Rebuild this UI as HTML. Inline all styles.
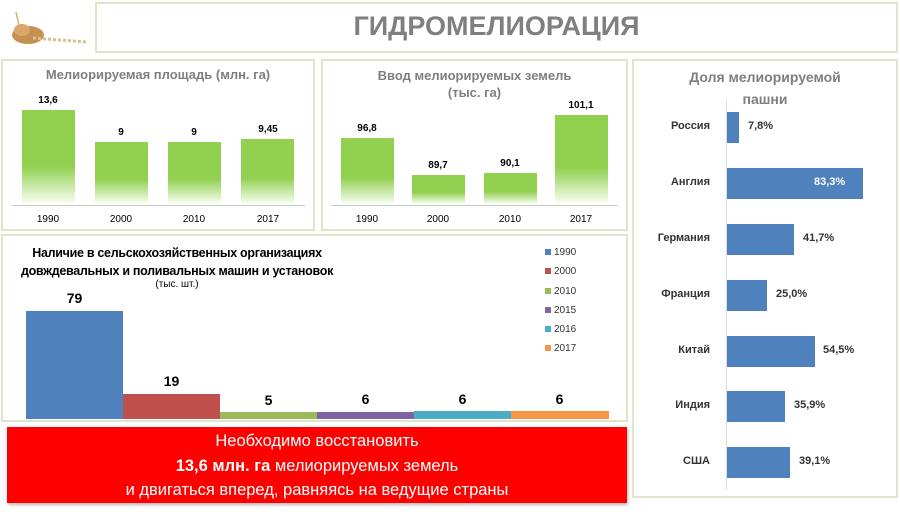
<!DOCTYPE html>
<html><head><meta charset="utf-8"><style>
body{margin:0;width:900px;height:520px;background:#fff;position:relative;overflow:hidden;font-family:"Liberation Sans","DejaVu Sans",sans-serif}
.a{position:absolute}
.p{position:absolute;border:2px solid #dde6c8;box-sizing:border-box}
.t{position:absolute;color:#7f7f7f;font-weight:bold;font-size:13px;text-align:center}
.g{position:absolute;background:linear-gradient(#92d050 0%,#92d050 60%,#fafff5 100%)}
.v{position:absolute;font-size:10px;font-weight:bold;color:#000;text-align:center;width:60px}
.x{position:absolute;font-size:10px;color:#000;text-align:center;width:60px}
.b{position:absolute;background:#4f81bd;height:31px;left:727px}
.c{position:absolute;font-size:11px;font-weight:bold;color:#333;width:90px;text-align:right;left:620px}
.pv{position:absolute;font-size:11px;font-weight:bold;color:#333}
.lg{position:absolute;left:545px;font-size:10px;color:#333}
.lg i{display:inline-block;width:6px;height:6px;margin-right:3px}
.bv{position:absolute;font-size:14px;font-weight:bold;text-align:center;width:97px}
</style></head><body>
<div class="a" style="left:8px;top:10px;width:78px;height:38px">
<svg width="78" height="38"><ellipse cx="20" cy="25" rx="16" ry="9" fill="#c89050"/><ellipse cx="14" cy="20" rx="8" ry="6" fill="#dba76a"/><path d="M25 28 L78 32" stroke="#d8c090" stroke-width="3" stroke-dasharray="3 2"/><path d="M8 2 L12 20" stroke="#d0b070" stroke-width="1.5"/></svg></div>
<div class="p" style="left:95px;top:2px;width:803px;height:51px"></div>
<div class="a" style="left:95px;top:11px;width:803px;text-align:center;font-size:27px;font-weight:bold;color:#7f7f7f">ГИДРОМЕЛИОРАЦИЯ</div>

<div class="p" style="left:1px;top:59px;width:314px;height:172px"></div>
<div class="t" style="left:2px;top:67px;width:312px">Мелиорируемая площадь (млн. га)</div>
<div class="a" style="left:12px;top:205px;width:293px;height:1px;background:#ccc"></div>
<div class="g" style="left:22px;top:110px;width:53px;height:94px"></div>
<div class="g" style="left:95px;top:142px;width:53px;height:62px"></div>
<div class="g" style="left:168px;top:142px;width:53px;height:62px"></div>
<div class="g" style="left:241px;top:139px;width:53px;height:65px"></div>
<div class="v" style="left:18px;top:95px">13,6</div><div class="v" style="left:91px;top:127px">9</div><div class="v" style="left:164px;top:127px">9</div><div class="v" style="left:238px;top:124px">9,45</div>
<div class="x" style="left:18px;top:214px">1990</div><div class="x" style="left:91px;top:214px">2000</div><div class="x" style="left:164px;top:214px">2010</div><div class="x" style="left:238px;top:214px">2017</div>

<div class="p" style="left:321px;top:59px;width:307px;height:172px"></div>
<div class="t" style="left:322px;top:67px;width:305px;line-height:17px">Ввод мелиорируемых земель<br>(тыс. га)</div>
<div class="a" style="left:331px;top:205px;width:287px;height:1px;background:#ccc"></div>
<div class="g" style="left:341px;top:138px;width:53px;height:66px"></div>
<div class="g" style="left:412px;top:175px;width:53px;height:29px"></div>
<div class="g" style="left:484px;top:173px;width:53px;height:31px"></div>
<div class="g" style="left:555px;top:115px;width:53px;height:89px"></div>
<div class="v" style="left:337px;top:123px">96,8</div><div class="v" style="left:408px;top:160px">89,7</div><div class="v" style="left:480px;top:158px">90,1</div><div class="v" style="left:551px;top:100px">101,1</div>
<div class="x" style="left:337px;top:214px">1990</div><div class="x" style="left:408px;top:214px">2000</div><div class="x" style="left:480px;top:214px">2010</div><div class="x" style="left:551px;top:214px">2017</div>

<div class="p" style="left:1px;top:234px;width:627px;height:188px"></div>
<div class="a" style="left:2px;top:244px;width:350px;text-align:center;font-size:12.5px;font-weight:bold;color:#000;line-height:18px;letter-spacing:-0.3px">Наличие в сельскохозяйственных организациях<br>довждевальных и поливальных машин и установок</div>
<div class="a" style="left:2px;top:279px;width:350px;text-align:center;font-size:10px;color:#000">(тыс. шт.)</div>
<div class="a" style="left:26px;top:311px;width:97px;height:108px;background:#4f81bd"></div>
<div class="a" style="left:123px;top:394px;width:97px;height:25px;background:#c0504d"></div>
<div class="a" style="left:220px;top:412px;width:97px;height:7px;background:#9bbb59"></div>
<div class="a" style="left:317px;top:412px;width:97px;height:7px;background:#8064a2"></div>
<div class="a" style="left:414px;top:411px;width:97px;height:8px;background:#4bacc6"></div>
<div class="a" style="left:511px;top:411px;width:98px;height:8px;background:#f79646"></div>
<div class="bv" style="left:26px;top:290px">79</div><div class="bv" style="left:123px;top:373px">19</div><div class="bv" style="left:220px;top:392px">5</div><div class="bv" style="left:317px;top:391px">6</div><div class="bv" style="left:414px;top:391px">6</div><div class="bv" style="left:511px;top:391px">6</div>
<div class="lg" style="top:247px"><i style="background:#4f81bd"></i>1990</div>
<div class="lg" style="top:266px"><i style="background:#c0504d"></i>2000</div>
<div class="lg" style="top:286px"><i style="background:#9bbb59"></i>2010</div>
<div class="lg" style="top:305px"><i style="background:#8064a2"></i>2015</div>
<div class="lg" style="top:324px"><i style="background:#4bacc6"></i>2016</div>
<div class="lg" style="top:343px"><i style="background:#f79646"></i>2017</div>

<div class="a" style="left:7px;top:427px;width:620px;height:76px;background:#ff0000;box-shadow:1px 2px 3px #bbb;color:#fff;text-align:center;font-size:16.5px;line-height:24.5px;padding-top:2px;box-sizing:border-box">Необходимо восстановить<br><b>13,6 млн. га</b> мелиорируемых земель<br>и двигаться вперед, равняясь на ведущие страны</div>

<div class="p" style="left:632px;top:59px;width:266px;height:439px"></div>
<div class="t" style="left:633px;top:66px;width:264px;font-size:14px;line-height:22px">Доля мелиорируемой<br>пашни</div>
<div class="a" style="left:726px;top:100px;width:1px;height:390px;background:#ddd"></div>
<div class="b" style="top:112px;width:12px"></div><div class="c" style="top:120px">Россия</div><div class="pv" style="left:748px;top:120px">7,8%</div>
<div class="b" style="top:168px;width:136px"></div><div class="c" style="top:176px">Англия</div><div class="pv" style="left:814px;top:176px;color:#fff">83,3%</div>
<div class="b" style="top:224px;width:67px"></div><div class="c" style="top:232px">Германия</div><div class="pv" style="left:803px;top:232px">41,7%</div>
<div class="b" style="top:280px;width:40px"></div><div class="c" style="top:288px">Франция</div><div class="pv" style="left:776px;top:288px">25,0%</div>
<div class="b" style="top:336px;width:88px"></div><div class="c" style="top:344px">Китай</div><div class="pv" style="left:823px;top:344px">54,5%</div>
<div class="b" style="top:391px;width:58px"></div><div class="c" style="top:399px">Индия</div><div class="pv" style="left:794px;top:399px">35,9%</div>
<div class="b" style="top:447px;width:63px"></div><div class="c" style="top:455px">США</div><div class="pv" style="left:799px;top:455px">39,1%</div>
</body></html>
